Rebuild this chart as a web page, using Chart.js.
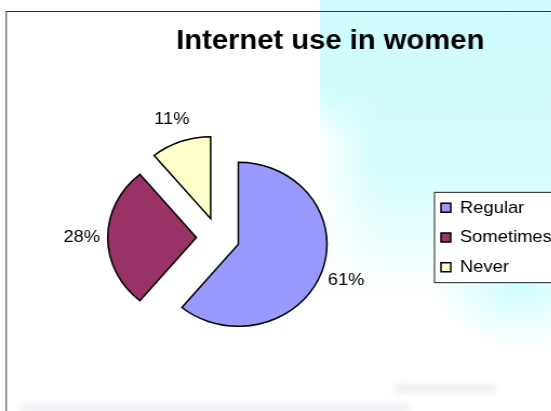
<!DOCTYPE html>
<html>
<head>
<meta charset="utf-8">
<script src="https://cdn.jsdelivr.net/npm/chart.js@4.4.1/dist/chart.umd.min.js"></script>
<style>
  html, body { margin: 0; padding: 0; background: #fff; }
  #wrap { position: relative; width: 551px; height: 411px; overflow: hidden; background: #fff; }
  .wash { position: absolute; }
  #w1 { left: 320px; top: 0; width: 240px; height: 300px;
        background: linear-gradient(to bottom, rgba(206,252,252,1) 0%, rgba(210,252,252,0.95) 55%, rgba(220,252,252,0) 100%); }
  #w1b { left: 318px; top: 90px; width: 60px; height: 200px;
        background: linear-gradient(to right, rgba(255,255,255,0.95), rgba(255,255,255,0));
        -webkit-mask-image: linear-gradient(to bottom, transparent 0%, #000 25%, #000 100%);
        mask-image: linear-gradient(to bottom, transparent 0%, #000 25%, #000 100%); }
  #w2 { left: 430px; top: 230px; width: 150px; height: 120px;
        background: radial-gradient(ellipse at 60% 45%, rgba(204,252,252,0.95) 0%, rgba(210,252,252,0) 70%); }
  #w3 { left: 395px; top: 384px; width: 100px; height: 9px; background: rgba(205,205,215,0.35); filter: blur(3px); }
  #w4 { left: 20px; top: 403px; width: 390px; height: 10px; background: rgba(215,215,225,0.35); filter: blur(3px); }
  #c { position: absolute; left: 0; top: 0; }
</style>
</head>
<body>
<div id="wrap">
  <div class="wash" id="w1"></div>
  <div class="wash" id="w1b"></div>
  <div class="wash" id="w2"></div>
  <div class="wash" id="w3"></div>
  <div class="wash" id="w4"></div>
  <canvas id="c" width="606" height="411" style="width:654.5px;height:411px"></canvas>
</div>
<script>
const categories = ["Regular", "Sometimes", "Never"];
const shares = [61, 28, 11];
const sliceColors = ["#9999ff", "#993366", "#ffffcc"];

Chart.defaults.font.family = "'Liberation Sans', Arial, sans-serif";
Chart.defaults.color = "#000";

// how far each slice is pulled out from the centre
const explode = 20;
const legendWidth = 207.85;

// frame round the chart, white box behind the legend
const legendBox = {
  id: "legendBox",
  beforeLayout(chart) {
    const legend = chart.legend;
    if (legend._wide) return;
    const fit = legend.fit;
    legend.fit = function () {
      fit.call(this);
      this.width = legendWidth;
    };
    legend._wide = true;
  },
  beforeDraw(chart) {
    const ctx = chart.ctx;
    ctx.save();
    ctx.strokeStyle = "#333";
    ctx.lineWidth = 1;
    ctx.strokeRect(5.8, 11.5, chart.width + 20, chart.height + 20);

    const hb = chart.legend.legendHitBoxes;
    if (hb && hb.length) {
      const first = hb[0];
      const last = hb[hb.length - 1];
      const x0 = first.left - 6;
      const y0 = first.top - 7;
      const y1 = last.top + last.height + 7;
      ctx.fillStyle = "#fff";
      ctx.fillRect(x0, y0, chart.width, y1 - y0);
      ctx.strokeStyle = "#222";
      ctx.strokeRect(x0, y0, chart.width, y1 - y0);
    }
    ctx.restore();
  }
};

// exploded slices with percentage labels outside
const explodeSlices = {
  id: "explodeSlices",
  beforeDatasetDraw(chart, args) {
    args.meta.data.forEach(arc => {
      const mid = (arc.startAngle + arc.endAngle) / 2;
      arc.x += Math.cos(mid) * explode;
      arc.y += Math.sin(mid) * explode;
    });
  },
  afterDatasetDraw(chart, args) {
    const ctx = chart.ctx;
    const values = chart.data.datasets[args.index].data;
    const total = values.reduce((a, b) => a + b, 0);
    ctx.save();
    ctx.font = "17px 'Liberation Sans', Arial, sans-serif";
    ctx.fillStyle = "#000";
    ctx.textAlign = "center";
    ctx.textBaseline = "middle";
    args.meta.data.forEach((arc, i) => {
      const mid = (arc.startAngle + arc.endAngle) / 2;
      const d = arc.outerRadius + 24;
      const pct = Math.round(values[i] / total * 100) + "%";
      ctx.fillText(pct, arc.x + Math.cos(mid) * d, arc.y + Math.sin(mid) * d);
      arc.x -= Math.cos(mid) * explode;
      arc.y -= Math.sin(mid) * explode;
    });
    ctx.restore();
  }
};

new Chart(document.getElementById("c"), {
  type: "pie",
  data: {
    labels: categories,
    datasets: [{
      data: shares,
      backgroundColor: sliceColors,
      borderColor: "#000",
      borderWidth: 1.5,
      borderJoinStyle: "miter",
      radius: 82
    }]
  },
  options: {
    responsive: false,
    animation: false,
    events: [],
    layout: { padding: { left: 8, right: 2.8, top: 0, bottom: 3.6 } },
    plugins: {
      title: {
        display: true,
        text: "Internet use in women",
        color: "#000",
        font: { size: 27, weight: "bold" },
        padding: { top: 25.2, bottom: 10 }
      },
      legend: {
        position: "right",
        fullSize: false,
        align: "center",
        labels: {
          boxWidth: 9,
          boxHeight: 9,
          padding: 12.65,
          color: "#000",
          font: { size: 17 }
        }
      },
      tooltip: { enabled: false }
    }
  },
  plugins: [legendBox, explodeSlices]
});
</script>
</body>
</html>
